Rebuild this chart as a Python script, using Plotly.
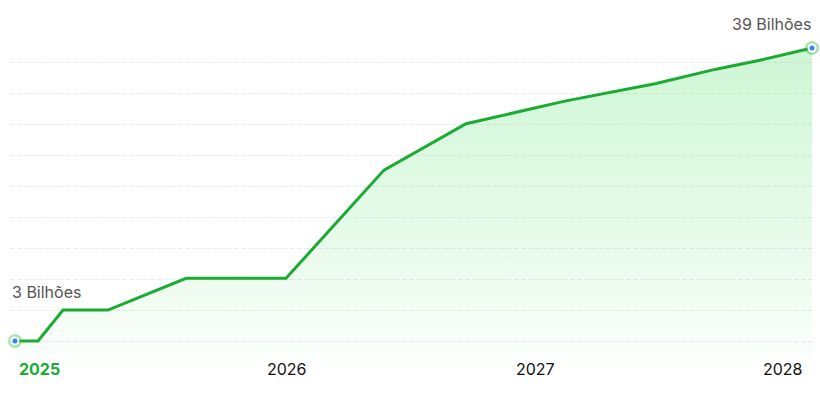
import plotly.graph_objects as go

# ---- data ----
x_years = [2024.903, 2024.996, 2025.097, 2025.278, 2025.593, 2025.996,
           2026.391, 2026.722, 2027.125, 2027.484, 2027.730, 2027.907, 2028.117]
y_billions = [3.0, 3.0, 6.8, 6.8, 10.7, 10.7, 24.0, 29.7, 32.5, 34.6, 36.4, 37.5, 39.0]
tick_years = [2025, 2026, 2027, 2028]
tick_labels = ["2025", "2026", "2027", "2028"]
start_label = "3 Bilhões"
end_label = "39 Bilhões"

GREEN = "#1aab33"
BLUE = "#2f88e0"
FONT = "Inter"

W, H = 820, 396
ML, MR = 10, 7
# y mapping: 3 -> px 341, 39 -> px 48
upp = (39 - 3) / (341 - 48)
y_top = 3 + 341 * upp
y_bot = 3 - (H - 341) * upp
x_lo = 2025 + (ML - 39) / 248
x_hi = 2025 + (W - MR - 39) / 248
base_val = 3 - (377 - 341) * upp
grid_step = 31 * upp
grid_vals = [3 + k * grid_step for k in range(10)]

fig = go.Figure()
# baseline for fill
fig.add_trace(go.Scatter(x=[x_years[0], x_years[-1]], y=[base_val, base_val],
                         mode="lines", line=dict(width=0), hoverinfo="skip",
                         showlegend=False))
# area + line
fig.add_trace(go.Scatter(
    x=x_years, y=y_billions, mode="lines",
    line=dict(color=GREEN, width=3),
    fill="tonexty",
    fillgradient=dict(type="vertical",
                      colorscale=[[0, "rgba(35,215,65,0.0)"],
                                  [0.25, "rgba(35,215,65,0.07)"],
                                  [1, "rgba(35,215,65,0.22)"]]),
    showlegend=False, cliponaxis=False))

ends_x = [x_years[0], x_years[-1]]
ends_y = [y_billions[0], y_billions[-1]]
fig.add_trace(go.Scatter(x=ends_x, y=ends_y, mode="markers",
                         marker=dict(size=14, color="rgba(40,185,65,0.4)"),
                         showlegend=False, cliponaxis=False))
fig.add_trace(go.Scatter(x=ends_x, y=ends_y, mode="markers",
                         marker=dict(size=9, color="white"),
                         showlegend=False, cliponaxis=False))
fig.add_trace(go.Scatter(x=ends_x, y=ends_y, mode="markers",
                         marker=dict(size=5, color=BLUE),
                         showlegend=False, cliponaxis=False))

annotations = []
for i, (tv, tl) in enumerate(zip(tick_years, tick_labels)):
    if i == 0:
        txt = f"<b>{tl}</b>"
        col = GREEN
    else:
        txt = tl
        col = "#111111"
    annotations.append(dict(x=tv, y=1 - 369 / H, xref="x", yref="paper",
                            text=txt, showarrow=False, xanchor="center",
                            yanchor="middle",
                            font=dict(family=FONT, size=16, color=col)))
annotations.append(dict(x=x_years[0], y=y_billions[0], xref="x", yref="y",
                        text=start_label, showarrow=False, xanchor="left",
                        yanchor="middle", xshift=-5, yshift=49,
                        font=dict(family=FONT, size=16, color="#555555")))
annotations.append(dict(x=x_years[-1], y=y_billions[-1], xref="x", yref="y",
                        text=end_label, showarrow=False, xanchor="right",
                        yanchor="middle", xshift=1, yshift=24,
                        font=dict(family=FONT, size=16, color="#555555")))

fig.update_layout(
    width=W, height=H,
    margin=dict(l=ML, r=MR, t=0, b=0, autoexpand=False),
    paper_bgcolor="white", plot_bgcolor="white",
    font=dict(family=FONT),
    xaxis=dict(range=[x_lo, x_hi], showgrid=False, zeroline=False,
               showticklabels=False, showline=False, fixedrange=True),
    yaxis=dict(range=[y_bot, y_top], showgrid=True, gridcolor="#ececec",
               griddash="5px,2px", gridwidth=1,
               tickmode="array", tickvals=grid_vals, zeroline=False,
               showticklabels=False, showline=False, fixedrange=True),
    annotations=annotations,
    showlegend=False,
)

fig.write_html("out.html", config={"displayModeBar": False},
               post_script="document.body.style.margin='0';document.body.style.overflow='hidden';")
